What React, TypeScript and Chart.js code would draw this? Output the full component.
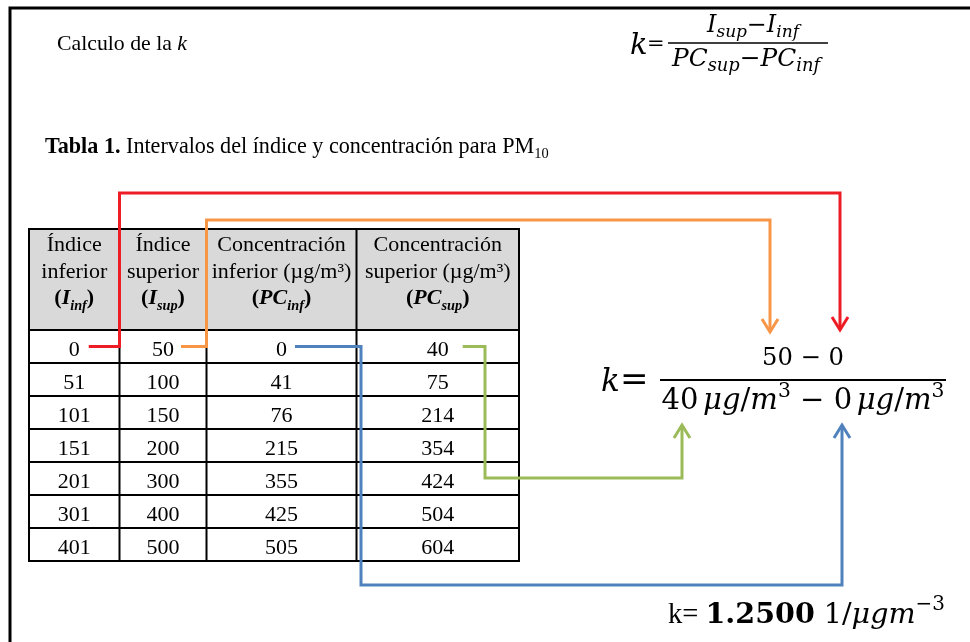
import React, { useEffect, useRef } from "react";
import { Chart, registerables } from "chart.js";
Chart.register(...registerables);

// ---------- data ----------
const headerTop = [
  ["Índice", "inferior"],
  ["Índice", "superior"],
  ["Concentración", "inferior (µg/m³)"],
  ["Concentración", "superior (µg/m³)"],
];
const headerSymbol = [
  ["I", "inf"],
  ["I", "sup"],
  ["PC", "inf"],
  ["PC", "sup"],
];
const indiceInferior = [0, 51, 101, 151, 201, 301, 401];
const indiceSuperior = [50, 100, 150, 200, 300, 400, 500];
const concInferior = [0, 41, 76, 215, 355, 425, 505];
const concSuperior = [40, 75, 214, 354, 424, 504, 604];
const columns = [indiceInferior, indiceSuperior, concInferior, concSuperior];
const resultadoK = "1.2500";

// ---------- layout ----------
const W = 970;
const H = 642;
const TIMES = '"Liberation Serif", "Times New Roman", serif';
const MATH = '"DejaVu Serif", serif';
const TBL_X = [29, 119.5, 206.5, 356.5, 519];
const TBL_TOP = 229;
const HEAD_H = 101;
const ROW_H = 33;
const BODY_FONT = 22;

type Seg = { t: string; w?: string; s?: number; dy?: number; f?: string };

function segFont(seg: Seg, size: number, fam: string) {
  return `${seg.w || ""} ${size * (seg.s || 1)}px ${seg.f || fam}`;
}
function measureSegs(ctx: CanvasRenderingContext2D, segs: Seg[], size: number, fam: string) {
  let w = 0;
  for (const s of segs) {
    ctx.font = segFont(s, size, fam);
    w += ctx.measureText(s.t).width;
  }
  return w;
}
function drawRich(
  ctx: CanvasRenderingContext2D,
  segs: Seg[],
  x: number,
  y: number,
  size: number,
  fam: string,
  align: "left" | "center" | "right",
  fit?: number
) {
  let sz = size;
  if (fit) sz = (size * fit) / measureSegs(ctx, segs, size, fam);
  const tot = measureSegs(ctx, segs, sz, fam);
  let cx = align === "left" ? x : align === "center" ? x - tot / 2 : x - tot;
  ctx.textAlign = "left";
  ctx.textBaseline = "alphabetic";
  for (const s of segs) {
    ctx.font = segFont(s, sz, fam);
    ctx.fillText(s.t, cx, y + (s.dy || 0) * sz);
    cx += ctx.measureText(s.t).width;
  }
}

const RED = "#ee1c24";
const ORANGE = "#f79646";
const GREEN = "#9bbb59";
const BLUE = "#4f81bd";

function buildConnectors() {
  const c = document.createElement("canvas").getContext("2d")!;
  c.font = `${BODY_FONT}px ${TIMES}`;
  const mid = TBL_TOP + HEAD_H + ROW_H / 2;
  const right = (col: number) =>
    (TBL_X[col] + TBL_X[col + 1]) / 2 + c.measureText(String(columns[col][0])).width / 2;
  return [
    {
      color: RED,
      pts: [
        { x: right(0) + 9, y: mid },
        { x: TBL_X[1], y: mid },
        { x: TBL_X[1], y: 193 },
        { x: 840, y: 193 },
        { x: 840, y: 330 },
      ],
    },
    {
      color: ORANGE,
      pts: [
        { x: right(1) + 7, y: mid },
        { x: TBL_X[2], y: mid },
        { x: TBL_X[2], y: 220 },
        { x: 770, y: 220 },
        { x: 770, y: 332 },
      ],
    },
    {
      color: BLUE,
      pts: [
        { x: right(2) + 8, y: mid },
        { x: TBL_X[3] + 4.5, y: mid },
        { x: TBL_X[3] + 4.5, y: 585 },
        { x: 842, y: 585 },
        { x: 842, y: 425 },
      ],
    },
    {
      color: GREEN,
      pts: [
        { x: right(3) + 14, y: mid },
        { x: 485, y: mid },
        { x: 485, y: 478 },
        { x: 682, y: 478 },
        { x: 682, y: 425 },
      ],
    },
  ];
}

const diagramPlugin = {
  id: "diagram",
  beforeDraw(chart: any) {
    const ctx = chart.ctx as CanvasRenderingContext2D;
    ctx.save();
    ctx.fillStyle = "#ffffff";
    ctx.fillRect(0, 0, chart.width, chart.height);
    ctx.restore();
  },
  beforeDatasetsDraw(chart: any) {
    const ctx = chart.ctx as CanvasRenderingContext2D;
    const X = (v: number) => chart.scales.x.getPixelForValue(v);
    const Y = (v: number) => chart.scales.y.getPixelForValue(v);
    ctx.save();
    ctx.fillStyle = "#000";
    ctx.strokeStyle = "#000";

    // page frame (top and left edges)
    ctx.lineWidth = 3;
    ctx.beginPath();
    ctx.moveTo(X(10), Y(H));
    ctx.lineTo(X(10), Y(8));
    ctx.lineTo(X(W), Y(8));
    ctx.stroke();

    // title texts
    drawRich(ctx, [{ t: "Calculo de la " }, { t: "k", w: "italic" }], X(57), Y(50), 21, TIMES, "left", 130);
    drawRich(
      ctx,
      [
        { t: "Tabla 1.", w: "bold" },
        { t: " Intervalos del índice y concentración para PM" },
        { t: "10", s: 0.65, dy: 0.22 },
      ],
      X(45),
      Y(153),
      21,
      TIMES,
      "left",
      504
    );

    // top formula
    drawRich(ctx, [{ t: "k", w: "italic" }], X(630), Y(54), 29, MATH, "left");
    drawRich(ctx, [{ t: "=" }], X(647), Y(50), 21, MATH, "left");
    ctx.lineWidth = 1.6;
    ctx.beginPath();
    ctx.moveTo(X(668), Y(43));
    ctx.lineTo(X(828), Y(43));
    ctx.stroke();
    drawRich(
      ctx,
      [
        { t: "I", w: "italic" },
        { t: "sup", w: "italic", s: 0.72, dy: 0.22 },
        { t: "−" },
        { t: "I", w: "italic" },
        { t: "inf", w: "italic", s: 0.72, dy: 0.22 },
      ],
      X(753),
      Y(32),
      18,
      MATH,
      "center",
      92
    );
    drawRich(
      ctx,
      [
        { t: "PC", w: "italic" },
        { t: "sup", w: "italic", s: 0.72, dy: 0.22 },
        { t: "−" },
        { t: "PC", w: "italic" },
        { t: "inf", w: "italic", s: 0.72, dy: 0.22 },
      ],
      X(746),
      Y(66),
      18,
      MATH,
      "center",
      148
    );

    // table header background
    const top = TBL_TOP;
    const hb = TBL_TOP + HEAD_H;
    const bottom = hb + ROW_H * indiceInferior.length;
    ctx.fillStyle = "#d9d9d9";
    ctx.fillRect(X(TBL_X[0]), Y(top), X(TBL_X[4]) - X(TBL_X[0]), Y(hb) - Y(top));
    ctx.fillStyle = "#000";

    // header text
    for (let c = 0; c < 4; c++) {
      const cx = X((TBL_X[c] + TBL_X[c + 1]) / 2);
      drawRich(ctx, [{ t: headerTop[c][0] }], cx, Y(top + 22), 22, TIMES, "center");
      drawRich(ctx, [{ t: headerTop[c][1] }], cx, Y(top + 49), 22, TIMES, "center");
      drawRich(
        ctx,
        [
          { t: "(", w: "bold" },
          { t: headerSymbol[c][0], w: "italic bold" },
          { t: headerSymbol[c][1], w: "italic bold", s: 0.65, dy: 0.25 },
          { t: ")", w: "bold" },
        ],
        cx,
        Y(top + 75),
        22,
        TIMES,
        "center"
      );
    }

    // body text
    for (let c = 0; c < 4; c++) {
      const cx = X((TBL_X[c] + TBL_X[c + 1]) / 2);
      columns[c].forEach((v, r) => {
        drawRich(ctx, [{ t: String(v) }], cx, Y(hb + r * ROW_H + 25.5), BODY_FONT, TIMES, "center");
      });
    }

    // grid
    ctx.lineWidth = 2;
    ctx.beginPath();
    const ys = [top, hb];
    for (let r = 1; r <= indiceInferior.length; r++) ys.push(hb + r * ROW_H);
    for (const y of ys) {
      ctx.moveTo(X(TBL_X[0]) - 1, Y(y));
      ctx.lineTo(X(TBL_X[4]) + 1, Y(y));
    }
    for (const x of TBL_X) {
      ctx.moveTo(X(x), Y(top) - 1);
      ctx.lineTo(X(x), Y(bottom) + 1);
    }
    ctx.stroke();

    // worked example
    drawRich(ctx, [{ t: "k", w: "italic" }], X(601), Y(391), 31, MATH, "left");
    drawRich(ctx, [{ t: "=" }], X(620), Y(390), 34, MATH, "left");
    ctx.lineWidth = 2;
    ctx.beginPath();
    ctx.moveTo(X(660), Y(380));
    ctx.lineTo(X(946), Y(380));
    ctx.stroke();
    drawRich(
      ctx,
      [{ t: String(indiceSuperior[0]) }, { t: " − " }, { t: String(indiceInferior[0]) }],
      X(803),
      Y(365),
      28,
      MATH,
      "center",
      82
    );
    const unit: Seg[] = [
      { t: " ", s: 0.5 },
      { t: "μg", w: "italic" },
      { t: "/" },
      { t: "m", w: "italic" },
      { t: "3", s: 0.7, dy: -0.42 },
    ];
    drawRich(
      ctx,
      [{ t: String(concSuperior[0]) }, ...unit, { t: " − " }, { t: String(concInferior[0]) }, ...unit],
      X(803),
      Y(409),
      28,
      MATH,
      "center",
      283
    );

    // result
    drawRich(
      ctx,
      [
        { t: "k= ", f: TIMES },
        { t: resultadoK, w: "bold" },
        { t: " 1/" },
        { t: "μgm", w: "italic" },
        { t: "−3", s: 0.7, dy: -0.45 },
      ],
      X(668),
      Y(623),
      26,
      MATH,
      "left",
      277
    );
    ctx.restore();
  },
  afterDatasetsDraw(chart: any) {
    const ctx = chart.ctx as CanvasRenderingContext2D;
    const X = (v: number) => chart.scales.x.getPixelForValue(v);
    const Y = (v: number) => chart.scales.y.getPixelForValue(v);
    ctx.save();
    ctx.lineWidth = 3;
    ctx.lineJoin = "miter";
    for (const ds of chart.data.datasets) {
      const p = ds.data;
      const a = p[p.length - 2];
      const b = p[p.length - 1];
      const tx = X(b.x);
      const ty = Y(b.y);
      const dir = Math.sign(Y(b.y) - Y(a.y));
      ctx.strokeStyle = ds.borderColor;
      ctx.beginPath();
      ctx.moveTo(tx - 8, ty - dir * 13);
      ctx.lineTo(tx, ty);
      ctx.lineTo(tx + 8, ty - dir * 13);
      ctx.stroke();
    }
    ctx.restore();
  },
};

export default function App() {
  const ref = useRef<HTMLCanvasElement>(null);
  useEffect(() => {
    if (!ref.current) return;
    const connectors = buildConnectors();
    const chart = new Chart(ref.current, {
      type: "scatter",
      data: {
        datasets: connectors.map((c) => ({
          data: c.pts,
          showLine: true,
          borderColor: c.color,
          backgroundColor: c.color,
          borderWidth: 3,
          pointRadius: 0,
          tension: 0,
          fill: false,
          borderJoinStyle: "miter",
          borderCapStyle: "butt",
        })),
      },
      options: {
        responsive: false,
        animation: false,
        devicePixelRatio: 1,
        events: [],
        layout: { padding: 0 },
        scales: {
          x: { type: "linear", min: 0, max: W, display: false },
          y: { type: "linear", min: 0, max: H, reverse: true, display: false },
        },
        plugins: { legend: { display: false }, tooltip: { enabled: false } },
      } as any,
      plugins: [diagramPlugin as any],
    });
    return () => chart.destroy();
  }, []);
  return (
    <div style={{ position: "fixed", left: 0, top: 0, width: W, height: H, background: "#fff" }}>
      <canvas ref={ref} width={W} height={H} style={{ display: "block" }} />
    </div>
  );
}
